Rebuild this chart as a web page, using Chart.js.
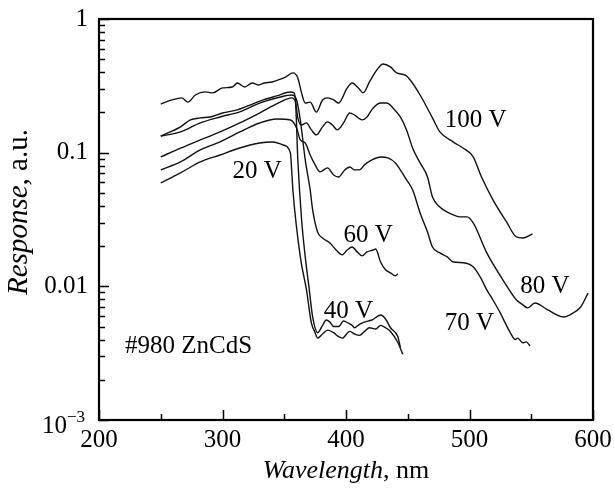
<!DOCTYPE html>
<html>
<head>
<meta charset="utf-8">
<script src="https://cdn.jsdelivr.net/npm/chart.js@4.4.0/dist/chart.umd.min.js"></script>
<style>
    html, body { margin: 0; padding: 0; background: #fff; }
    canvas { display: block; }
</style>
</head>
<body>
<canvas id="chart" width="614" height="489"></canvas>
<script>
(function () {
    'use strict';

    // wavelength (nm) / response (a.u.), one pair per bias
    var wl100 = [250, 259, 267, 272, 278, 286, 292, 300, 308, 312, 318, 324, 329, 334, 340, 345, 351, 357, 361, 364,
                 367, 371, 376, 381, 385, 390, 394, 401, 405, 410, 414, 419, 425, 430, 436, 441, 448, 452, 460, 470,
                 476, 487, 495, 503, 509, 519, 530, 538, 543, 551],
        r100 = [0.231, 0.248, 0.257, 0.239, 0.270, 0.285, 0.280, 0.305, 0.310, 0.332, 0.310, 0.332, 0.321, 0.332, 0.338,
                0.350, 0.368, 0.395, 0.362, 0.280, 0.235, 0.239, 0.201, 0.248, 0.257, 0.248, 0.235, 0.305, 0.332, 0.305,
                0.280, 0.338, 0.416, 0.461, 0.438, 0.395, 0.381, 0.350, 0.270, 0.182, 0.143, 0.120, 0.108, 0.0929,
                0.0681, 0.0443, 0.0303, 0.0234, 0.0230, 0.0247],

        wl80 = [250, 266, 274, 282, 290, 300, 312, 322, 333, 344, 355, 358, 361, 364, 368, 372, 376, 381, 385, 389,
                393, 398, 403, 407, 413, 417, 422, 428, 433, 438, 444, 449, 454, 460, 466, 470, 476, 487, 492, 498,
                503, 514, 527, 538, 543, 547, 553, 563, 576, 581, 590, 596],
        r80 = [0.133, 0.156, 0.176, 0.182, 0.185, 0.198, 0.209, 0.227, 0.248, 0.266, 0.284, 0.280, 0.182, 0.161, 0.167,
               0.148, 0.136, 0.156, 0.170, 0.161, 0.148, 0.167, 0.198, 0.191, 0.176, 0.185, 0.216, 0.235, 0.235, 0.216,
               0.185, 0.148, 0.108, 0.0838, 0.0658, 0.0466, 0.0392, 0.0342, 0.0331, 0.0331, 0.0298, 0.0178, 0.0112,
               0.0079, 0.0073, 0.0069, 0.0075, 0.0067, 0.0059, 0.0061, 0.0070, 0.0089],

        wl70 = [250, 266, 282, 298, 314, 330, 344, 355, 360, 363, 367, 371, 375, 379, 385, 390, 394, 399, 403, 407,
                411, 415, 421, 428, 434, 440, 444, 449, 454, 460, 466, 470, 476, 482, 487, 495, 503, 509, 514, 519,
                525, 529, 533, 537, 539, 543, 546, 549],
        r70 = [0.0743, 0.0852, 0.1048, 0.1203, 0.1428, 0.1668, 0.1787, 0.1756, 0.1530, 0.1245, 0.1182, 0.0961, 0.0810,
               0.0718, 0.0769, 0.0681, 0.0658, 0.0743, 0.0782, 0.0743, 0.0743, 0.0810, 0.0882, 0.0929, 0.0913, 0.0838,
               0.0743, 0.0625, 0.0526, 0.0354, 0.0255, 0.0197, 0.0178, 0.0166, 0.0152, 0.0150, 0.0140, 0.0116, 0.0094,
               0.0079, 0.0063, 0.0053, 0.0045, 0.0040, 0.0041, 0.00378, 0.00384, 0.00358],

        wl60 = [250, 266, 282, 298, 314, 330, 347, 356, 360, 363, 367, 371, 373, 377, 381, 387, 392, 397, 401, 405,
                409, 413, 417, 422, 424, 428, 432, 436, 440, 442],
        r60 = [0.133, 0.143, 0.167, 0.185, 0.202, 0.235, 0.261, 0.270, 0.248, 0.176, 0.0882, 0.0526, 0.0373, 0.0255,
               0.0230, 0.0211, 0.0187, 0.0172, 0.0187, 0.0197, 0.0181, 0.0169, 0.0181, 0.0187, 0.0190, 0.0152, 0.0133,
               0.0126, 0.0120, 0.0124],

        wl40 = [250, 266, 282, 298, 314, 330, 347, 356, 359, 361, 364, 367, 370, 373, 377, 381, 384, 387, 390, 394,
                398, 402, 405, 407, 411, 415, 421, 428, 432, 436, 442, 444],
        r40 = [0.0929, 0.108, 0.1245, 0.143, 0.167, 0.198, 0.2395, 0.257, 0.240, 0.088, 0.0319, 0.0166, 0.0099, 0.0059,
               0.0045, 0.0051, 0.0056, 0.0054, 0.0050, 0.0050, 0.0055, 0.0053, 0.0051, 0.0049, 0.0052, 0.0054, 0.0056,
               0.0061, 0.0057, 0.0049, 0.0042, 0.0035],

        wl20 = [250, 266, 282, 298, 314, 330, 341, 349, 355, 356, 357, 363, 368, 372, 375, 377, 381, 385, 390, 394,
                397, 403, 407, 411, 415, 419, 424, 428, 432, 436, 442, 446],
        r20 = [0.0593, 0.0706, 0.0852, 0.0961, 0.1084, 0.1182, 0.1203, 0.1142, 0.0995, 0.074, 0.0526, 0.0166, 0.0094,
               0.0053, 0.0045, 0.0041, 0.0044, 0.0047, 0.0045, 0.0042, 0.0041, 0.0046, 0.0044, 0.0043, 0.0046, 0.0049,
               0.0048, 0.0051, 0.0049, 0.0046, 0.0038, 0.0031],

        xTicks = [200, 300, 400, 500, 600],
        yTicks = [1, 0.1, 0.01, 0.001],

        // curve labels, placed in data coordinates (wavelength, response)
        notes = [
            { text: '100 V', x: 505, y: 0.156, align: 'center' },
            { text: '80 V', x: 561, y: 0.0089, align: 'center' },
            { text: '70 V', x: 500, y: 0.0047, align: 'center' },
            { text: '60 V', x: 418, y: 0.0215, align: 'center' },
            { text: '40 V', x: 402, y: 0.0058, align: 'center' },
            { text: '20 V', x: 328, y: 0.0647, align: 'center' },
            { text: '#980 ZnCdS', x: 221, y: 0.00318, align: 'left' }
        ],

        serif = "'Liberation Serif', 'DejaVu Serif', serif",

        zip = function (xs, ys) {
            return xs.map(function (x, i) { return { x: x, y: ys[i] }; });
        },

        series = function (label, xs, ys) {
            return {
                label: label,
                data: zip(xs, ys),
                showLine: true,
                borderColor: '#111',
                borderWidth: 1.4,
                pointRadius: 0,
                cubicInterpolationMode: 'monotone',
                fill: false
            };
        },

        isDecade = function (v) {
            var l = Math.log10(v);
            return Math.abs(l - Math.round(l)) < 1e-9;
        },

        // inward ticks, closed frame, 10^-3 label, titles and curve labels
        decorations = {
            id: 'decorations',
            afterDraw: function (chart) {
                var ctx = chart.ctx,
                    area = chart.chartArea,
                    sx = chart.scales.x,
                    sy = chart.scales.y,
                    px, py, w1, w2, start;

                ctx.save();
                ctx.strokeStyle = '#000';
                ctx.lineWidth = 1.5;
                ctx.beginPath();
                sx.ticks.forEach(function (t) {
                    px = Math.round(sx.getPixelForValue(t.value)) + 0.5;
                    ctx.moveTo(px, area.bottom);
                    ctx.lineTo(px, area.bottom - (t.value % 100 === 0 ? 10 : 6));
                });
                sy.ticks.forEach(function (t) {
                    py = Math.round(sy.getPixelForValue(t.value)) + 0.5;
                    ctx.moveTo(area.left, py);
                    ctx.lineTo(area.left + (isDecade(t.value) ? 10 : 6), py);
                });
                ctx.stroke();

                ctx.lineWidth = 2.2;
                ctx.strokeRect(area.left, area.top, area.right - area.left, area.bottom - area.top);

                ctx.fillStyle = '#000';

                // 10^-3 with a real superscript
                py = sy.getPixelForValue(0.001);
                ctx.textAlign = 'right';
                ctx.textBaseline = 'alphabetic';
                ctx.font = '25px ' + serif;
                ctx.fillText('10', 67, py + 13);
                ctx.textAlign = 'left';
                ctx.font = '17px ' + serif;
                ctx.fillText('\u22123', 67, py + 2);

                ctx.font = '25px ' + serif;
                notes.forEach(function (n) {
                    ctx.textAlign = n.align;
                    ctx.fillText(n.text, sx.getPixelForValue(n.x), sy.getPixelForValue(n.y));
                });

                // x title: italic quantity, upright unit
                ctx.textAlign = 'left';
                ctx.font = 'italic 26px ' + serif;
                w1 = ctx.measureText('Wavelength').width;
                ctx.font = '26px ' + serif;
                w2 = ctx.measureText(', nm').width;
                start = 346 - (w1 + w2) / 2;
                ctx.font = 'italic 26px ' + serif;
                ctx.fillText('Wavelength', start, 478);
                ctx.font = '26px ' + serif;
                ctx.fillText(', nm', start + w1, 478);

                // y title
                ctx.translate(27, 212);
                ctx.rotate(-Math.PI / 2);
                ctx.font = 'italic 29px ' + serif;
                w1 = ctx.measureText('Response').width;
                ctx.font = '29px ' + serif;
                w2 = ctx.measureText(', a.u.').width;
                start = -(w1 + w2) / 2;
                ctx.font = 'italic 29px ' + serif;
                ctx.fillText('Response', start, 0);
                ctx.font = '29px ' + serif;
                ctx.fillText(', a.u.', start + w1, 0);

                ctx.restore();
            }
        },

        init = function () {
            var canvas = document.getElementById('chart');

            return new Chart(canvas.getContext('2d'), {
                type: 'scatter',
                data: {
                    datasets: [
                        series('100 V', wl100, r100),
                        series('80 V', wl80, r80),
                        series('70 V', wl70, r70),
                        series('60 V', wl60, r60),
                        series('40 V', wl40, r40),
                        series('20 V', wl20, r20)
                    ]
                },
                options: {
                    responsive: false,
                    animation: false,
                    devicePixelRatio: 1,
                    layout: { padding: { top: 19, right: 21, left: 0, bottom: 0 } },
                    plugins: {
                        legend: { display: false },
                        tooltip: { enabled: false }
                    },
                    scales: {
                        x: {
                            type: 'linear',
                            min: 200,
                            max: 600,
                            grid: { display: false, drawTicks: false },
                            border: { display: false },
                            ticks: {
                                stepSize: 50,
                                autoSkip: false,
                                maxRotation: 0,
                                padding: 5,
                                color: '#000',
                                font: { family: serif, size: 25 },
                                callback: function (v) {
                                    return xTicks.indexOf(v) > -1 ? String(v) : '';
                                }
                            },
                            afterFit: function (scale) {
                                scale.height = 69;
                                scale.paddingLeft = 0;
                                scale.paddingRight = 0;
                            }
                        },
                        y: {
                            type: 'logarithmic',
                            min: 0.001,
                            max: 1,
                            grid: { display: false, drawTicks: false },
                            border: { display: false },
                            afterBuildTicks: function (scale) {
                                var ticks = [], e, m;
                                for (e = -3; e < 0; e++) {
                                    for (m = 1; m < 10; m++) {
                                        ticks.push({ value: parseFloat((m * Math.pow(10, e)).toPrecision(3)) });
                                    }
                                }
                                ticks.push({ value: 1 });
                                scale.ticks = ticks;
                            },
                            ticks: {
                                autoSkip: false,
                                padding: 11,
                                color: '#000',
                                font: { family: serif, size: 25 },
                                callback: function (v) {
                                    // 10^-3 is drawn by the plugin with a superscript
                                    return (yTicks.indexOf(v) > -1 && v !== 0.001) ? String(v) : '';
                                }
                            },
                            afterFit: function (scale) {
                                scale.width = 99;
                                scale.paddingTop = 0;
                                scale.paddingBottom = 0;
                            }
                        }
                    }
                },
                plugins: [decorations]
            });
        };

    init();
}());
</script>
</body>
</html>
